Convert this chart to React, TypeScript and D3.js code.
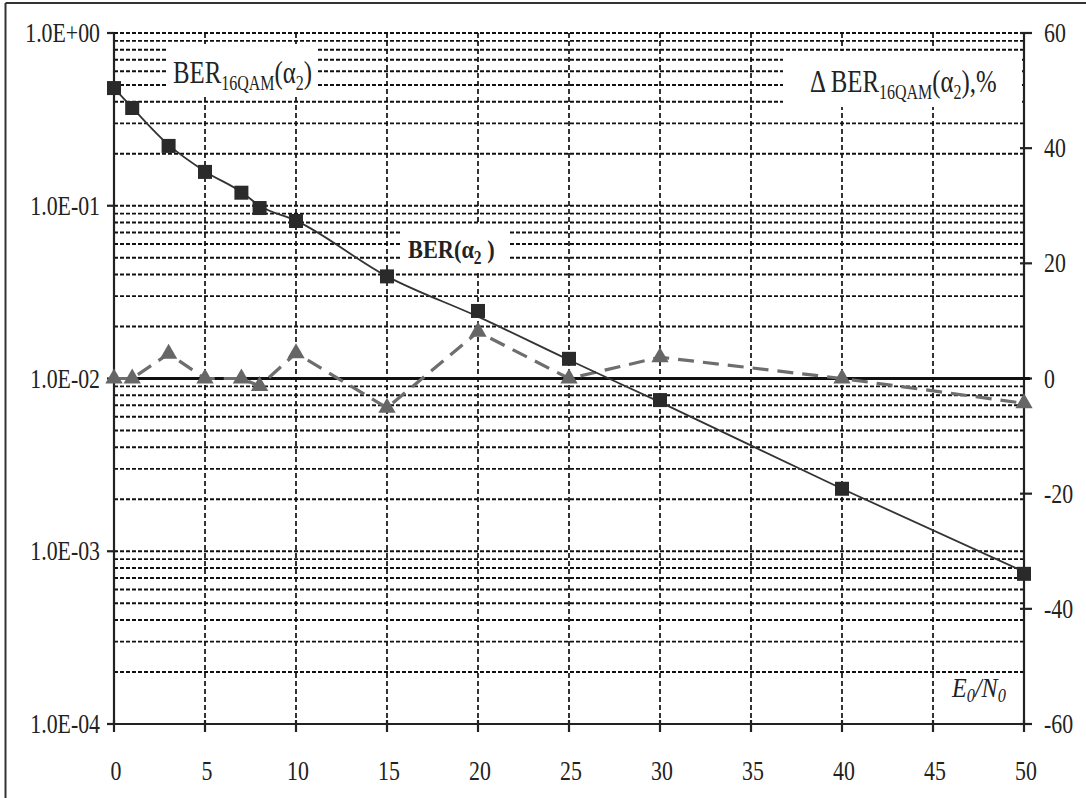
import React from "react";
import * as d3 from "d3";

// E0/N0 points where the simulation was run
const snr = [0, 1, 3, 5, 7, 8, 10, 15, 20, 25, 30, 40, 50];
// simulated BER (squares)
const berSim = [0.48, 0.368, 0.222, 0.157, 0.119, 0.097, 0.0816, 0.039, 0.0246, 0.013, 0.0075, 0.0023, 0.00074];
// analytic BER curve (solid line)
const berTheory = [0.48, 0.37, 0.225, 0.158, 0.12, 0.1, 0.082, 0.039, 0.0228, 0.0128, 0.0073, 0.0023, 0.00076];
// relative deviation, % (triangles, right axis)
const deltaPct = [0, 0, 4.3, 0, 0, -1.3, 4.4, -5.1, 8.1, 0, 3.7, 0, -4.3];

const xTicks = [0, 5, 10, 15, 20, 25, 30, 35, 40, 45, 50];
const leftTicks = [1, 1e-1, 1e-2, 1e-3, 1e-4];
const leftTickLabels = ["1.0E+00", "1.0E-01", "1.0E-02", "1.0E-03", "1.0E-04"];
const rightTicks = [60, 40, 20, 0, -20, -40, -60];

const W = 1086;
const H = 798;
const FONT = "'Liberation Serif', 'DejaVu Serif', serif";
const SX = 0.78;

export default function App() {
  const x = d3.scaleLinear().domain([0, 50]).range([114, 1024]);
  const y = d3.scaleLog().domain([1e-4, 1]).range([724, 33]);
  const y2 = d3.scaleLinear().domain([-60, 60]).range([724, 33]);

  // minor log gridlines 2..9 in each decade + majors
  const hGrid: number[] = [];
  for (let k = -4; k < 0; k++) {
    for (let m = 1; m <= 9; m++) {
      const v = m * Math.pow(10, k);
      if (v > 1e-4) hGrid.push(v);
    }
  }
  hGrid.push(1);

  const theoryLine = d3
    .line<number>()
    .x((_, i) => x(snr[i]))
    .y((d) => y(d))
    .curve(d3.curveMonotoneX);

  const deltaLine = d3
    .line<number>()
    .x((_, i) => x(snr[i]))
    .y((d) => y2(d));

  const tri = d3.symbol().type(d3.symbolTriangle).size(130)();

  const txt = (
    px: number,
    py: number,
    content: React.ReactNode,
    opts: { anchor?: string; size?: number; weight?: string; style?: string; sx?: number } = {}
  ) => (
    <text
      transform={`translate(${px},${py}) scale(${opts.sx ?? SX},1)`}
      textAnchor={opts.anchor ?? "start"}
      fontSize={opts.size ?? 28}
      fontWeight={opts.weight}
      fontStyle={opts.style}
      fontFamily={FONT}
      fill="#222"
    >
      {content}
    </text>
  );

  return (
    <svg
      width={W}
      height={H}
      style={{ position: "absolute", left: 0, top: 0, background: "#fff" }}
    >
      <rect x={0} y={0} width={W} height={H} fill="#fff" />
      {/* outer frame (cropped on right/bottom) */}
      <line x1={5.5} x2={5.5} y1={3} y2={H} stroke="#333" strokeWidth={2} />
      <line x1={5.5} x2={W} y1={3} y2={3} stroke="#333" strokeWidth={2} />

      {/* horizontal gridlines */}
      <g stroke="#111" strokeWidth={1.9} strokeDasharray="4,2">
        {hGrid.map((v, i) => (
          <line key={i} x1={x(0)} x2={x(50)} y1={y(v)} y2={y(v)} />
        ))}
      </g>
      {/* vertical gridlines */}
      <g stroke="#111" strokeWidth={1.7} strokeDasharray="5,3">
        {xTicks.slice(1, -1).map((t) => (
          <line key={t} x1={x(t)} x2={x(t)} y1={y(1)} y2={y(1e-4)} />
        ))}
      </g>

      {/* white label boxes */}
      <rect x={168} y={44} width={149} height={50} fill="#fff" />
      <rect x={783} y={51} width={239} height={56} fill="#fff" />
      <rect x={400} y={225} width={108} height={48} fill="#fff" />

      {/* axes */}
      <g stroke="#222" strokeWidth={2.2}>
        <line x1={x(0)} x2={x(0)} y1={y(1)} y2={y(1e-4)} />
        <line x1={x(50)} x2={x(50)} y1={y(1)} y2={y(1e-4)} />
        <line x1={x(0)} x2={x(50)} y1={y(1e-4)} y2={y(1e-4)} />
        {leftTicks.map((t) => (
          <line key={t} x1={x(0) - 7} x2={x(0)} y1={y(t)} y2={y(t)} />
        ))}
        {xTicks.map((t) => (
          <line key={t} x1={x(t)} x2={x(t)} y1={y(1e-4) - 4} y2={y(1e-4) + 8} />
        ))}
        {rightTicks.map((t) => (
          <line key={t} x1={x(50) - 4} x2={x(50) + 8} y1={y2(t)} y2={y2(t)} />
        ))}
      </g>
      {/* zero line of the right axis */}
      <line x1={x(0)} x2={x(50) + 6} y1={y2(0)} y2={y2(0)} stroke="#111" strokeWidth={3} />

      {/* delta series */}
      <path
        d={deltaLine(deltaPct) ?? ""}
        fill="none"
        stroke="#6e6e6e"
        strokeWidth={3.2}
        strokeDasharray="16,9"
      />
      {deltaPct.map((d, i) => (
        <path key={i} d={tri ?? ""} transform={`translate(${x(snr[i])},${y2(d)})`} fill="#666" />
      ))}

      {/* BER curve and points */}
      <path d={theoryLine(berTheory) ?? ""} fill="none" stroke="#333" strokeWidth={1.8} />
      {berSim.map((d, i) => (
        <rect
          key={i}
          x={x(snr[i]) - 7}
          y={y(d) - 7}
          width={14}
          height={14}
          fill="#2a2a2a"
        />
      ))}

      {/* tick labels */}
      {leftTicks.map((t, i) => (
        <g key={t}>{txt(100, y(t) + 9, leftTickLabels[i], { anchor: "end" })}</g>
      ))}
      {xTicks.map((t) => (
        <g key={t}>{txt(x(t) + 2, 780, String(t), { anchor: "middle" })}</g>
      ))}
      {rightTicks.map((t) => (
        <g key={t}>{txt(1044, y2(t) + 9, String(t))}</g>
      ))}

      {/* series labels */}
      {txt(
        173,
        83,
        <>
          BER
          <tspan fontSize={20} dy={7}>16QAM</tspan>
          <tspan dy={-7}>(α</tspan>
          <tspan fontSize={20} dy={7}>2</tspan>
          <tspan dy={-7}>)</tspan>
        </>,
        { size: 31, sx: 0.8 }
      )}
      {txt(
        810,
        92,
        <>
          Δ BER
          <tspan fontSize={20} dy={7}>16QAM</tspan>
          <tspan dy={-7}>(α</tspan>
          <tspan fontSize={20} dy={7}>2</tspan>
          <tspan dy={-7}>),%</tspan>
        </>,
        { size: 31, sx: 0.8 }
      )}
      {txt(
        408,
        258,
        <>
          BER(α
          <tspan fontSize={18} dy={6}>2</tspan>
          <tspan dy={-6}> )</tspan>
        </>,
        { size: 26, weight: "bold", sx: 0.86 }
      )}
      {txt(
        952,
        697,
        <>
          E
          <tspan fontSize={19} dy={5}>0</tspan>
          <tspan dy={-5}>/N</tspan>
          <tspan fontSize={19} dy={5}>0</tspan>
        </>,
        { size: 28, style: "italic", sx: 0.86 }
      )}
    </svg>
  );
}
